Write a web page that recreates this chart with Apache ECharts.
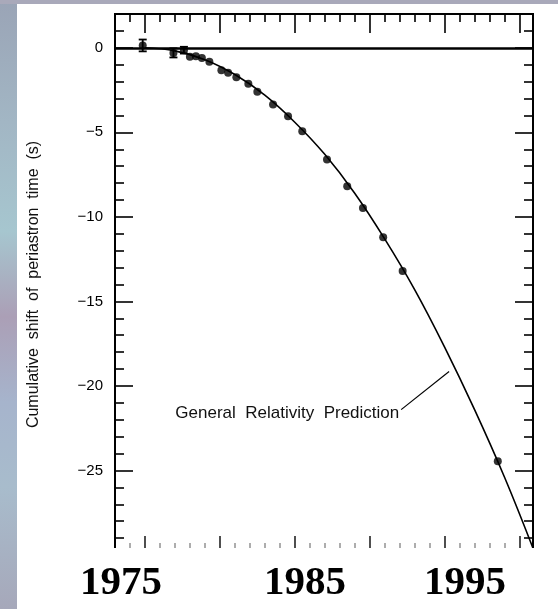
<!DOCTYPE html>
<html>
<head>
<meta charset="utf-8">
<script src="https://cdn.jsdelivr.net/npm/echarts@6/dist/echarts.min.js"></script>
<style>
  html, body { margin: 0; padding: 0; }
  #wrap {
    position: relative; width: 558px; height: 609px; overflow: hidden;
    background: linear-gradient(180deg, #9aa4b6 0%, #a2b6c4 20%, #a6c6cf 38%, #ab9fb6 52%, #a6b4cc 66%, #a8bccc 80%, #a6a8ba 100%);
  }
  #paper { position: absolute; left: 17px; top: 4px; right: 0; bottom: 0; background: #ffffff; }
  #topstrip { position: absolute; left: 0; top: 0; right: 0; height: 4px; background: #a9a9ba; }
  #chart { position: absolute; left: 0; top: 0; width: 558px; height: 609px; }
</style>
</head>
<body>
<div id="wrap">
  <div id="topstrip"></div>
  <div id="paper"></div>
  <div id="chart"></div>
</div>
<script>
// ---- data ----
const obsYears  = [1974.85, 1976.9, 1977.6, 1978.0, 1978.4, 1978.8, 1979.3, 1980.1, 1980.55, 1981.1, 1981.9, 1982.5, 1983.55, 1984.55, 1985.5, 1987.15, 1988.5, 1989.55, 1990.9, 1992.2, 1998.55];
const obsShift  = [0.14, -0.30, -0.14, -0.53, -0.50, -0.60, -0.83, -1.33, -1.48, -1.74, -2.13, -2.60, -3.36, -4.05, -4.93, -6.61, -8.19, -9.47, -11.2, -13.2, -24.45];
const obsError  = [0.35, 0.27, 0.20, 0, 0, 0, 0, 0, 0, 0, 0, 0, 0, 0, 0, 0, 0, 0, 0, 0, 0];

const grYears   = [1975, 1977, 1979, 1981, 1983, 1985, 1987, 1989, 1991, 1993, 1995, 1997, 1999, 2000.9];
const grShift   = [0, -0.18, -0.70, -1.58, -2.80, -4.40, -6.30, -8.60, -11.30, -14.30, -17.70, -21.40, -25.40, -29.60];

const yMajorTicks = [-30, -25, -20, -15, -10, -5, 0];
const yTickLabels = [-25, -20, -15, -10, -5, 0];
const yMinorTicks = [-29, -28, -27, -26, -24, -23, -22, -21, -19, -18, -17, -16, -14, -13, -12, -11, -9, -8, -7, -6, -4, -3, -2, -1, 1];
const xMajorTicks = [1975, 1980, 1985, 1990, 1995, 2000];
const xMinorTicks = [1974, 1976, 1977, 1978, 1979, 1981, 1982, 1983, 1984, 1986, 1987, 1988, 1989, 1991, 1992, 1993, 1994, 1996, 1997, 1998, 1999];
const yearLabels  = ['1975', '1985', '1995'];

const yTitle = 'Cumulative  shift  of  periastron  time  (s)';
const annotationText = 'General  Relativity  Prediction';
const annotationAt = [1984.5, -21.6];
const leaderFrom = [1992.1, -21.4];
const leaderTo   = [1995.3, -19.15];

// ---- chart ----
const X_MIN = 1973, X_MAX = 2000.9, Y_MIN = -30, Y_MAX = 2;
const sans = '"Liberation Sans", Arial, sans-serif';

function xAx(gridIndex, position, ticks, len, color) {
  return {
    type: 'value', gridIndex: gridIndex, min: X_MIN, max: X_MAX, position: position,
    axisLine: { show: false, onZero: false },
    axisTick: { show: true, inside: true, length: len, customValues: ticks, lineStyle: { color: color, width: 1.6 } },
    axisLabel: { show: false },
    splitLine: { show: false }
  };
}
function yAx(gridIndex, position, ticks, len, withLabels) {
  const ax = {
    type: 'value', gridIndex: gridIndex, min: Y_MIN, max: Y_MAX, position: position,
    axisLine: { show: false, onZero: false },
    axisTick: { show: true, inside: true, length: len, customValues: ticks, lineStyle: { color: '#000', width: 1.6 } },
    axisLabel: { show: false },
    splitLine: { show: false }
  };
  if (withLabels) {
    ax.axisLabel = {
      show: true, customValues: yTickLabels, margin: 12,
      fontFamily: sans, fontSize: 15, color: '#000',
      formatter: v => (v < 0 ? '\u2212' + Math.abs(v) : String(v))
    };
    ax.name = yTitle;
    ax.nameLocation = 'middle';
    ax.nameRotate = 90;
    ax.nameGap = 73;
    ax.nameTextStyle = { fontFamily: sans, fontSize: 16, color: '#111' };
  }
  return ax;
}

const chart = echarts.init(document.getElementById('chart'), null, { renderer: 'canvas' });

const obsData = obsYears.map((y, i) => [y, obsShift[i], obsError[i]]);
const grData = grYears.map((y, i) => [y, grShift[i]]);
const gridBox = { left: 115, right: 25, top: 14, bottom: 54 };

chart.setOption({
  animation: false,
  backgroundColor: 'transparent',
  grid: [
    Object.assign({ show: true, borderColor: '#000', borderWidth: 2, backgroundColor: 'transparent' }, gridBox),
    Object.assign({ show: false }, gridBox)
  ],
  xAxis: [
    xAx(0, 'top', xMajorTicks, 19, '#000'),
    xAx(0, 'bottom', xMajorTicks, 19, '#222'),
    xAx(1, 'top', xMinorTicks, 8, '#000'),
    xAx(1, 'bottom', xMinorTicks, 12, '#999')
  ],
  yAxis: [
    yAx(0, 'left', yMajorTicks, 18, true),
    yAx(0, 'right', yMajorTicks, 18, false),
    yAx(1, 'left', yMinorTicks, 9, false),
    yAx(1, 'right', yMinorTicks, 9, false)
  ],
  series: [
    {
      type: 'line', name: 'GR', xAxisIndex: 0, yAxisIndex: 0, data: grData, smooth: 0.4, showSymbol: false,
      lineStyle: { color: '#000', width: 1.6 },
      z: 3,
      markLine: {
        silent: true, symbol: ['none', 'none'], animation: false,
        label: { show: false },
        data: [
          { yAxis: 0, lineStyle: { color: '#000', width: 2.5, type: 'solid' } },
          [{ coord: leaderFrom, lineStyle: { color: '#000', width: 1.2, type: 'solid' } }, { coord: leaderTo }]
        ]
      },
      markPoint: {
        silent: true, symbol: 'circle', symbolSize: 1,
        itemStyle: { color: 'rgba(0,0,0,0)' },
        label: { show: true, position: 'inside', formatter: annotationText, fontFamily: sans, fontSize: 17, color: '#111' },
        data: [{ coord: annotationAt }]
      }
    },
    {
      type: 'custom', name: 'err', xAxisIndex: 0, yAxisIndex: 0, data: obsData, z: 4,
      renderItem: function (params, api) {
        const e = api.value(2);
        if (!e) return null;
        const x = api.value(0), y = api.value(1);
        const top = api.coord([x, y + e]);
        const bot = api.coord([x, y - e]);
        const style = { stroke: '#000', lineWidth: 1.8 };
        return {
          type: 'group',
          children: [
            { type: 'line', shape: { x1: top[0], y1: top[1], x2: bot[0], y2: bot[1] }, style: style },
            { type: 'line', shape: { x1: top[0] - 4, y1: top[1], x2: top[0] + 4, y2: top[1] }, style: style },
            { type: 'line', shape: { x1: bot[0] - 4, y1: bot[1], x2: bot[0] + 4, y2: bot[1] }, style: style }
          ]
        };
      }
    },
    {
      type: 'scatter', name: 'obs', xAxisIndex: 0, yAxisIndex: 0, data: obsData, symbol: 'circle', symbolSize: 8,
      itemStyle: { color: '#000' }, z: 5
    }
  ],
  graphic: [
    { type: 'rect', shape: { x: 100, y: 548, width: 450, height: 70 }, style: { fill: '#ffffff' }, z: 50 },
    { type: 'text', x: 121, y: 583, z: 60, style: { text: yearLabels[0], font: 'bold 41px "Liberation Serif", "Times New Roman", serif', fill: '#000', textAlign: 'center', textVerticalAlign: 'middle' } },
    { type: 'text', x: 305, y: 583, z: 60, style: { text: yearLabels[1], font: 'bold 41px "Liberation Serif", "Times New Roman", serif', fill: '#000', textAlign: 'center', textVerticalAlign: 'middle' } },
    { type: 'text', x: 465, y: 583, z: 60, style: { text: yearLabels[2], font: 'bold 41px "Liberation Serif", "Times New Roman", serif', fill: '#000', textAlign: 'center', textVerticalAlign: 'middle' } }
  ]
});
</script>
</body>
</html>
